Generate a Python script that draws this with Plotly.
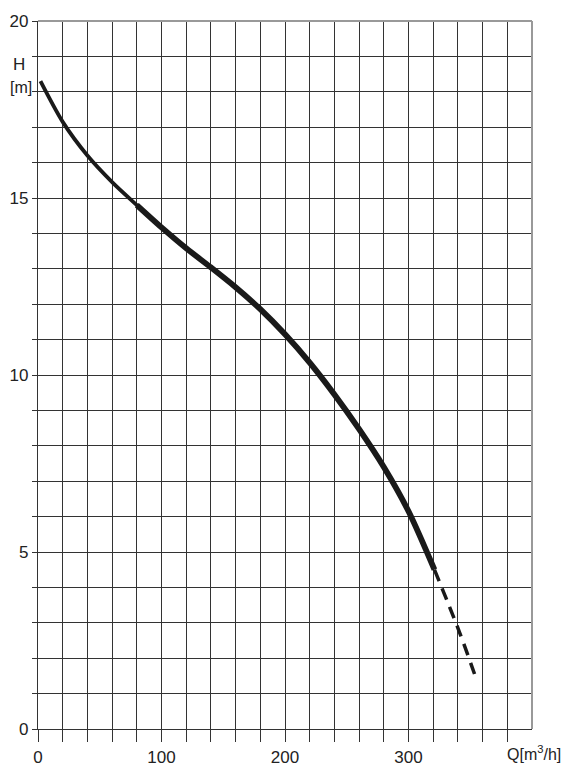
import plotly.graph_objects as go

# Pump curve data (Q in m3/h, H in m)
q_solid = [2, 20, 40, 60, 80, 100, 120, 140, 160, 180, 200, 220, 240, 260, 280, 300, 321]
h_solid = [18.3, 17.15, 16.2, 15.45, 14.8, 14.17, 13.58, 13.04, 12.48, 11.86, 11.15, 10.35, 9.45, 8.47, 7.4, 6.15, 4.5]
q_dashed = [321, 341, 355]
h_dashed = [4.5, 2.76, 1.4]

x_tick_vals = [0, 20, 40, 60, 80, 100, 120, 140, 160, 180, 200, 220, 240, 260, 280, 300, 320, 340, 360, 380]
x_tick_text = ["0", "", "", "", "", "100", "", "", "", "", "200", "", "", "", "", "300", "", "", "", ""]
y_tick_vals = [0, 1, 2, 3, 4, 5, 6, 7, 8, 9, 10, 11, 12, 13, 14, 15, 16, 17, 18, 19, 20]
y_tick_text = ["0", "", "", "", "", "5", "", "", "", "", "10", "", "", "", "", "15", "", "", "", "", "20"]

INK = "#1a1a1a"
GRID = "#333333"
FONT = dict(family="Liberation Sans, Arial, sans-serif", size=17, color="#222222")

fig = go.Figure()
# thin upper part
fig.add_trace(go.Scatter(x=q_solid[:6], y=h_solid[:6], mode="lines",
                         line=dict(color=INK, width=3.8, shape="spline", smoothing=0.8),
                         hoverinfo="skip", showlegend=False))
# thicker main part
fig.add_trace(go.Scatter(x=q_solid[4:], y=h_solid[4:], mode="lines",
                         line=dict(color=INK, width=5.8, shape="spline", smoothing=0.8),
                         hoverinfo="skip", showlegend=False))
# dashed extension
fig.add_trace(go.Scatter(x=q_dashed, y=h_dashed, mode="lines",
                         line=dict(color=INK, width=3.5, dash="12px,8px", shape="spline"),
                         hoverinfo="skip", showlegend=False))

# The page body has an 8px margin, so the figure is made 8px smaller
fig.update_layout(
    width=570, height=762,
    margin=dict(l=30, r=46, t=13, b=41),
    paper_bgcolor="white", plot_bgcolor="white",
    font=FONT,
    xaxis=dict(range=[0, 400], tickmode="array", tickvals=x_tick_vals, ticktext=x_tick_text,
               showgrid=True, gridcolor=GRID, gridwidth=1.2, zeroline=False,
               showline=True, linecolor=GRID, linewidth=1.2, automargin=False,
               ticks="outside", ticklen=12, tickwidth=1.2, tickcolor=GRID,
               tickfont=FONT, fixedrange=True),
    yaxis=dict(range=[0, 20], tickmode="array", tickvals=y_tick_vals, ticktext=y_tick_text,
               showgrid=True, gridcolor=GRID, gridwidth=1.2, zeroline=False,
               showline=True, linecolor=GRID, linewidth=1.2, automargin=False,
               ticks="outside", ticklen=5, tickwidth=1.2, tickcolor=GRID,
               tickfont=FONT, fixedrange=True),
    shapes=[
        dict(type="line", xref="paper", yref="paper", x0=0, x1=1, y0=1, y1=1,
             line=dict(color="#999999", width=2)),
        dict(type="line", xref="paper", yref="paper", x0=1, x1=1, y0=0, y1=1,
             line=dict(color="#999999", width=2)),
    ],
    annotations=[
        dict(text="H", xref="paper", yref="paper", x=-0.038, y=0.938,
             xanchor="center", yanchor="middle", showarrow=False, font=FONT),
        dict(text="[m]", xref="paper", yref="paper", x=-0.0335, y=0.906,
             xanchor="center", yanchor="middle", showarrow=False,
             font=dict(family=FONT["family"], size=16, color=FONT["color"])),
        dict(text="Q[m<sup>3</sup>/h]", xref="paper", yref="paper", x=0.945, y=-0.034,
             xanchor="left", yanchor="middle", showarrow=False,
             font=dict(family=FONT["family"], size=16, color=FONT["color"])),
    ],
)

fig.write_html("out.html")
